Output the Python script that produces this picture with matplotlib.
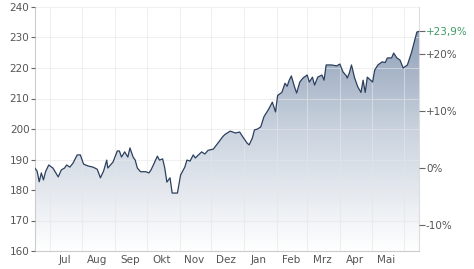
import matplotlib
matplotlib.use("Agg")
import matplotlib.pyplot as plt
import matplotlib.dates as mdates
import numpy as np
import pandas as pd
from matplotlib.colors import LinearSegmentedColormap

dates = ["2023-06-17", "2023-06-19", "2023-06-21", "2023-06-23", "2023-06-25", "2023-06-27",
         "2023-06-30", "2023-07-04", "2023-07-09", "2023-07-12", "2023-07-15", "2023-07-17",
         "2023-07-20", "2023-07-23", "2023-07-27", "2023-07-30", "2023-08-02", "2023-08-06",
         "2023-08-11", "2023-08-15", "2023-08-18", "2023-08-21", "2023-08-24", "2023-08-25",
         "2023-08-30", "2023-09-03", "2023-09-05", "2023-09-07", "2023-09-10", "2023-09-13",
         "2023-09-15", "2023-09-18", "2023-09-20", "2023-09-22", "2023-09-25", "2023-09-30",
         "2023-10-03", "2023-10-05", "2023-10-08", "2023-10-11", "2023-10-13", "2023-10-16",
         "2023-10-18", "2023-10-20", "2023-10-23", "2023-10-25", "2023-10-30", "2023-11-02",
         "2023-11-06", "2023-11-08", "2023-11-11", "2023-11-14", "2023-11-16", "2023-11-18",
         "2023-11-22", "2023-11-25", "2023-11-28", "2023-12-03", "2023-12-07", "2023-12-12",
         "2023-12-14", "2023-12-19", "2023-12-24", "2023-12-28", "2023-12-31", "2024-01-04",
         "2024-01-06", "2024-01-09", "2024-01-11", "2024-01-14", "2024-01-17", "2024-01-20",
         "2024-01-21", "2024-01-24", "2024-01-28", "2024-01-31", "2024-02-02", "2024-02-06",
         "2024-02-09", "2024-02-11", "2024-02-13", "2024-02-15", "2024-02-18", "2024-02-20",
         "2024-02-23", "2024-02-26", "2024-03-01", "2024-03-03", "2024-03-06", "2024-03-08",
         "2024-03-11", "2024-03-15", "2024-03-17", "2024-03-19", "2024-03-24", "2024-03-29",
         "2024-04-01", "2024-04-04", "2024-04-07", "2024-04-08", "2024-04-10", "2024-04-12",
         "2024-04-15", "2024-04-18", "2024-04-21", "2024-04-23", "2024-04-25", "2024-04-27",
         "2024-05-02", "2024-05-04", "2024-05-07", "2024-05-11", "2024-05-14", "2024-05-16",
         "2024-05-20", "2024-05-22", "2024-05-25", "2024-05-28", "2024-05-31", "2024-06-04",
         "2024-06-08", "2024-06-11", "2024-06-13", "2024-06-15"]

prices = [187.1, 186.2, 182.7, 185.6, 183.3, 186.0,
          188.2, 187.2, 184.3, 186.6, 187.2, 188.2,
          187.5, 188.8, 191.5, 191.5, 188.5, 187.9,
          187.5, 186.8, 184.0, 186.2, 189.8, 187.2,
          189.2, 192.8, 192.8, 190.8, 192.5, 190.8,
          193.8, 190.8, 189.8, 187.2, 186.0, 186.0,
          185.6, 186.6, 188.8, 191.1, 189.8, 190.2,
          187.2, 182.6, 184.0, 179.0, 179.0, 184.9,
          187.5, 189.8, 189.5, 191.5, 190.5, 191.2,
          192.5, 191.8, 193.0, 193.4, 195.2, 197.5,
          198.2, 199.3, 198.7, 199.0, 197.4, 195.4,
          194.8, 197.0, 199.7, 200.0, 200.7, 204.0,
          204.6, 206.2, 208.8, 205.6, 211.0, 212.0,
          215.0, 214.0, 216.0, 217.4, 213.8, 211.8,
          215.4, 216.7, 217.7, 215.4, 217.0, 214.4,
          217.0, 217.7, 216.0, 221.0, 221.0, 220.7,
          221.3, 218.7, 217.5, 216.7, 218.4, 221.0,
          216.7, 213.8, 212.0, 216.0, 212.0, 217.0,
          215.4, 219.3, 221.0, 222.0, 221.8, 223.3,
          223.3, 224.9, 223.3, 222.6, 220.0, 221.0,
          225.2, 229.2, 231.8, 232.0]

month_labels = ["Jul", "Aug", "Sep", "Okt", "Nov", "Dez", "Jan", "Feb", "Mrz", "Apr", "Mai"]
left_ticks = [160, 170, 180, 190, 200, 210, 220, 230, 240]
pct_ticks = [-10, 0, 10, 20]
pct_last = 23.9

x = pd.to_datetime(dates)
y = np.array(prices)
base = y[-1] / (1 + pct_last / 100)

fig = plt.figure(figsize=(4.74, 2.69), dpi=100)
ax = fig.add_axes([35 / 474, 1 - 251 / 269, (419 - 35) / 474, (251 - 7) / 269])

ymin, ymax = 160, 240
xn = mdates.date2num(x)
ax.set_xlim(xn[0], xn[-1])
ax.set_ylim(ymin, ymax)

# gradient fill
cmap = LinearSegmentedColormap.from_list("g", ["#ffffff", "#c9d2de", "#8194af"])
grad = np.linspace(0, 1, 256).reshape(-1, 1)
im = ax.imshow(grad, cmap=cmap, aspect="auto", origin="lower",
               extent=[xn[0], xn[-1], ymin, ymax], zorder=1)
poly = ax.fill_between(xn, y, ymin, color="none", zorder=1)
path = poly.get_paths()[0]
im.set_clip_path(path, transform=ax.transData)

ax.plot(xn, y, color="#2c405e", lw=0.9, zorder=3)

# grid
month_starts = pd.date_range("2023-07-01", "2024-06-01", freq="MS")
ax.set_xticks(mdates.date2num(month_starts))
ax.set_xticklabels([])
mid = month_starts[:-1] + pd.Timedelta(days=14)
ax.set_xticks(mdates.date2num(mid), minor=True)
ax.set_xticklabels(month_labels, minor=True)
ax.tick_params(axis="x", which="both", length=0, labelsize=7.5, labelcolor="#555555", pad=3)
ax.set_yticks(left_ticks)
ax.set_yticklabels([str(t) for t in left_ticks])
ax.tick_params(axis="y", which="major", length=3, width=0.8, color="#666666",
               labelsize=7.5, labelcolor="#555555", pad=1)
ax.grid(True, which="major", color="#e6e6e6", lw=0.8, zorder=0)
ax.set_axisbelow(False)
for gl in ax.get_xgridlines() + ax.get_ygridlines():
    gl.set_zorder(2)
    gl.set_alpha(0.6)

ax.spines["top"].set_visible(False)
ax.spines["right"].set_color("#dddddd")
ax.spines["left"].set_color("#cccccc")
ax.spines["bottom"].set_color("#cccccc")

# right percent axis
ax2 = ax.twinx()
ax2.set_ylim((ymin / base - 1) * 100, (ymax / base - 1) * 100)
ticks2 = pct_ticks + [pct_last]
ax2.set_yticks(ticks2)
labels2 = [("+" if t > 0 else "") + f"{t}%" for t in pct_ticks] + ["+" + f"{pct_last:.1f}".replace(".", ",") + "%"]
ax2.set_yticklabels(labels2)
ax2.tick_params(axis="y", length=4, width=0.8, color="#666666", labelsize=7.5,
                labelcolor="#555555", pad=1)
ax2.get_yticklabels()[-1].set_color("#3f9a63")
for s in ax2.spines.values():
    s.set_visible(False)

fig.savefig("out.png", dpi=100)
